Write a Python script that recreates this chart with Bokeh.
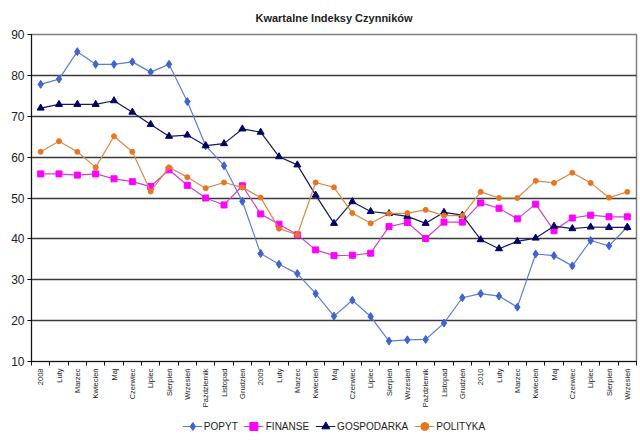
import math
from bokeh.plotting import figure
from bokeh.layouts import column
from bokeh.models import (FixedTicker, Range1d, Legend, LegendItem)
from bokeh.embed import file_html
from bokeh.resources import INLINE

categories = ["2008", "Luty", "Marzec", "Kwiecień", "Maj", "Czerwiec", "Lipiec",
              "Sierpień", "Wrzesień", "Październik", "Listopad", "Grudzień",
              "2009", "Luty", "Marzec", "Kwiecień", "Maj", "Czerwiec", "Lipiec",
              "Sierpień", "Wrzesień", "Październik", "Listopad", "Grudzień",
              "2010", "Luty", "Marzec", "Kwiecień", "Maj", "Czerwiec", "Lipiec",
              "Sierpień", "Wrzesień"]

popyt = [77.8, 79.1, 85.8, 82.7, 82.7, 83.3, 80.8, 82.7, 73.6, 62.8, 57.9, 49.2,
         36.4, 33.8, 31.5, 26.6, 21.1, 25.0, 21.0, 15.0, 15.3, 15.4, 19.4, 25.6,
         26.6, 26.0, 23.3, 36.3, 35.9, 33.4, 39.6, 38.3, 42.9]
finanse = [55.9, 55.9, 55.6, 55.9, 54.7, 54.0, 52.8, 56.9, 53.1, 50.0, 48.3, 53.0,
           46.1, 43.6, 41.0, 37.3, 35.9, 36.0, 36.5, 43.0, 44.0, 40.1, 44.1, 44.1,
           48.8, 47.5, 44.9, 48.5, 42.0, 45.1, 45.8, 45.4, 45.4]
gospodarka = [72.0, 72.9, 72.9, 72.9, 73.8, 71.0, 68.0, 65.1, 65.4, 62.8, 63.3, 66.9,
              66.1, 60.1, 58.1, 50.7, 43.8, 49.1, 46.7, 46.2, 45.5, 43.8, 46.5, 45.8,
              39.8, 37.6, 39.4, 40.2, 43.1, 42.5, 42.9, 42.8, 42.8]
polityka = [61.3, 63.9, 61.3, 57.5, 65.1, 61.3, 51.6, 57.5, 55.1, 52.4, 53.8, 52.6,
            50.1, 42.5, 41.0, 53.8, 52.6, 46.3, 43.8, 46.2, 46.3, 47.1, 45.7, 45.7,
            51.5, 50.0, 50.0, 54.2, 53.7, 56.2, 53.7, 50.1, 51.5]
y_ticks = [10, 20, 30, 40, 50, 60, 70, 80, 90]

xs = list(range(len(categories)))

p = figure(width=640, height=412, output_backend="svg", toolbar_location=None,
           x_range=Range1d(-0.5, len(categories) - 0.5), y_range=Range1d(10, 90),
           min_border_left=31, min_border_right=4, min_border_top=34,
           min_border_bottom=51,
           title="Kwartalne Indeksy Czynników")
p.title.align = "center"
p.title.vertical_align = "top"
p.title.text_font = "Liberation Sans"
p.title.text_font_size = "11px"
p.title.text_font_style = "bold"
p.title.text_color = "#222222"
p.title.standoff = 17

p.background_fill_color = "white"
p.border_fill_color = "white"
p.outline_line_color = "#808080"
p.outline_line_width = 1.5

# x axis: labels at centers, tick marks between categories
p.xaxis.ticker = FixedTicker(ticks=xs, minor_ticks=[i - 0.5 for i in range(len(categories) + 1)])
p.xaxis.major_label_overrides = {i: c for i, c in enumerate(categories)}
p.xaxis.major_label_orientation = math.pi / 2
p.xaxis.major_label_text_font = "Liberation Sans"
p.xaxis.major_label_text_font_size = "7.5px"
p.xaxis.major_label_text_color = "#222222"
p.xaxis.major_tick_out = 0
p.xaxis.major_tick_in = 0
p.xaxis.minor_tick_out = 4
p.xaxis.minor_tick_in = 0
p.xaxis.axis_line_color = "#111111"
p.xaxis.minor_tick_line_color = "#111111"
p.xaxis.major_label_standoff = 3

p.yaxis.ticker = FixedTicker(ticks=y_ticks)
p.yaxis.major_label_text_font = "Liberation Sans"
p.yaxis.major_label_text_font_size = "12px"
p.yaxis.major_label_text_color = "#222222"
p.yaxis.major_tick_out = 4
p.yaxis.major_tick_in = 0
p.yaxis.minor_tick_line_color = None
p.yaxis.axis_line_color = "#111111"
p.yaxis.major_label_standoff = 3

p.xgrid.grid_line_color = None
p.ygrid.ticker = FixedTicker(ticks=y_ticks)
p.ygrid.grid_line_color = "#3a3a3a"
p.ygrid.grid_line_width = 1.3

series = [
    ("POPYT", popyt, "#5B7FD6", "#3F63CF", "diamond", 8),
    ("FINANSE", finanse, "#D040D0", "#FF00FF", "square", 6),
    ("GOSPODARKA", gospodarka, "#1A1A5A", "#000066", "triangle", 7),
    ("POLITYKA", polityka, "#D98A4A", "#E8761E", "circle", 5),
]

# legend strip below the chart
lp = figure(width=640, height=28, output_backend="svg", toolbar_location=None,
            x_axis_type=None, y_axis_type=None,
            x_range=Range1d(-0.5, len(categories) - 0.5), y_range=Range1d(10, 90),
            min_border=0)
lp.outline_line_color = None
lp.xgrid.grid_line_color = None
lp.ygrid.grid_line_color = None

items = []
for name, vals, lc, mc, marker, sz in series:
    p.line(xs, vals, line_color=lc, line_width=1.2)
    p.scatter(xs, vals, marker=marker, size=sz, fill_color=mc, line_color=mc)
    l = lp.line(xs, vals, line_color=lc, line_width=1.2, visible=False)
    s = lp.scatter(xs, vals, marker=marker, size=sz - 1, fill_color=mc, line_color=mc, visible=False)
    items.append(LegendItem(label=name, renderers=[l, s]))

legend = Legend(items=items, orientation="horizontal", location="center",
                label_text_font="Liberation Sans", label_text_font_size="10px",
                label_text_color="#222222", glyph_width=20, spacing=6,
                border_line_color=None, background_fill_alpha=0,
                inactive_fill_alpha=0, click_policy="none",
                padding=2, margin=0, label_standoff=2)
lp.add_layout(legend, "center")

layout = column(p, lp, spacing=0)
open("out.html", "w").write(file_html(layout, INLINE))
